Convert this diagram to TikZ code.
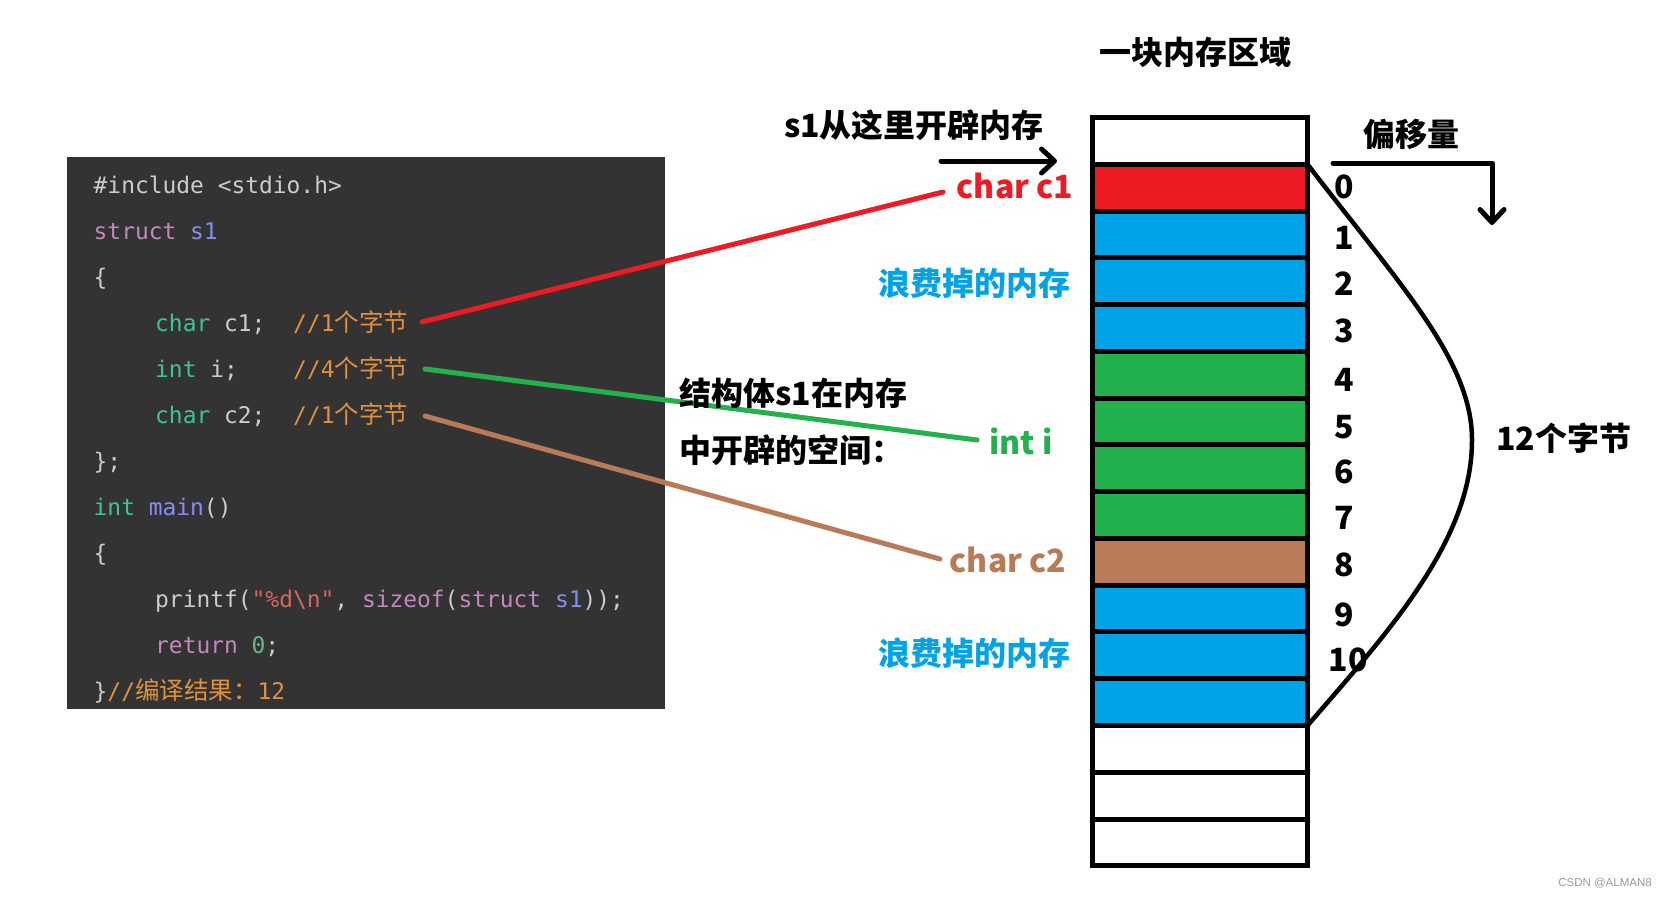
\documentclass[tikz,border=0pt]{standalone}
\usepackage{fontspec}
\setmainfont{Liberation Sans}
\newfontfamily\cjk{Noto Sans CJK SC}
\newfontfamily\codefont{DejaVu Sans Mono}
\newfontfamily\wmfont{Liberation Sans}
\usetikzlibrary{arrows.meta}
\definecolor{codebg}{HTML}{333333}
\definecolor{cgray}{HTML}{CCCCCC}
\definecolor{cgreen}{HTML}{3EC48E}
\definecolor{cpink}{HTML}{C586C0}
\definecolor{cblue}{HTML}{8A8AF5}
\definecolor{corange}{HTML}{E0913E}
\definecolor{cstr}{HTML}{D7665F}
\definecolor{czero}{HTML}{6DB58A}
\definecolor{memred}{HTML}{ED1C24}
\definecolor{memblue}{HTML}{00A2E8}
\definecolor{memgreen}{HTML}{22B14C}
\definecolor{membrown}{HTML}{B97A57}
\definecolor{wmgray}{HTML}{999999}
\newcommand{\ccjk}[1]{{\cjk\fontsize{24.5}{26}\selectfont #1}}
\begin{document}
\begin{tikzpicture}[x=1pt,y=-1pt,
  code/.style={anchor=base west, inner sep=0pt, text=cgray, font=\codefont\fontsize{22.9}{26}\selectfont},
  cmt/.style={anchor=base west, inner sep=0pt, text=corange, font=\codefont\fontsize{22.9}{26}\selectfont},
  lbl/.style={inner sep=0pt, font=\cjk\bfseries\fontsize{32}{38}\selectfont},
  cell/.style={draw=black, line width=5pt, minimum width=215pt, minimum height=46.77pt, inner sep=0pt, outer sep=0pt},
  conn/.style={line width=5pt, line cap=round},
  blackarrow/.style={line width=5pt, line cap=round, line join=round, -{Straight Barb[length=13pt,width=24pt,round]}},
]
\useasboundingbox (0,0) rectangle (1662,898);
\fill[white] (0,0) rectangle (1662,898);

% code box
\node[fill=codebg, minimum width=598pt, minimum height=552pt, anchor=north west, inner sep=0pt, outer sep=0pt] (codebox) at (67,157) {};
\node[code] (l1) at (93.5,193.5) {\#include <stdio.h>};
\node[code] (l2) at (93.5,239.5) {\textcolor{cpink}{struct} \textcolor{cblue}{s1}};
\node[code] (l3) at (93.5,285.5) {\{};
\node[code] (l4) at (155,331.5) {\textcolor{cgreen}{char} c1;};
\node[cmt] (m4) at (293,331.5) {//1\ccjk{个字节}};
\node[code] (l5) at (155,377.5) {\textcolor{cgreen}{int} i;};
\node[cmt] (m5) at (293,377.5) {//4\ccjk{个字节}};
\node[code] (l6) at (155,423.5) {\textcolor{cgreen}{char} c2;};
\node[cmt] (m6) at (293,423.5) {//1\ccjk{个字节}};
\node[code] (l7) at (93.5,469.5) {\};};
\node[code] (l8) at (93.5,515.5) {\textcolor{cgreen}{int} \textcolor{cblue}{main}()};
\node[code] (l9) at (93.5,561.5) {\{};
\node[code] (l10) at (155,607.5) {printf(\textcolor{cstr}{"\%d\textbackslash n"}, \textcolor{cpink}{sizeof}(\textcolor{cpink}{struct} \textcolor{cblue}{s1}));};
\node[code] (l11) at (155,653.5) {\textcolor{cpink}{return} \textcolor{czero}{0};};
\node[code] (l12) at (93.5,699.5) {\}\textcolor{corange}{//\ccjk{编译结果：}12}};

% memory block
\foreach \c [count=\i from 0] in {white,memred,memblue,memblue,memblue,memgreen,memgreen,memgreen,memgreen,membrown,memblue,memblue,memblue,white,white,white}{
  \node[cell, fill=\c] (row\i) at (1200,{117.5+(\i+0.5)*46.77}) {};
}

% connectors
\coordinate (ra) at (422,322); \coordinate (rb) at (943,192);
\coordinate (ga) at (425,369); \coordinate (gb) at (977,440);
\coordinate (ba) at (425,416); \coordinate (bb) at (940,559);
\draw[conn, memred] (ra) -- (rb);
\draw[conn, memgreen] (ga) -- (gb);
\draw[conn, membrown] (ba) -- (bb);

% labels
\node[lbl] (t1) at (1195.5,52) {一块内存区域};
\node[lbl] (t2) at (914,125) {s1从这里开辟内存};
\node[lbl] (t3) at (1411,134) {偏移量};
\node[lbl, text=memred] (t4) at (1015,185.5) {char c1};
\node[lbl, text=memblue] (t5) at (974.5,283) {浪费掉的内存};
\node[lbl, anchor=west] (t6) at (679,393) {结构体s1在内存};
\node[lbl, anchor=west] (t7) at (679,450.5) {中开辟的空间：};
\node[lbl, text=memgreen] (t8) at (1021,441) {int i};
\node[lbl, text=membrown] (t9) at (1008,560) {char c2};
\node[lbl, text=memblue] (t10) at (974.5,653) {浪费掉的内存};
\node[lbl] (t11) at (1563.5,438) {12个字节};

% offsets
\foreach \d/\yy in {0/186.5,1/237.5,2/284,3/331,4/379.5,5/427,6/471.7,7/518,8/565,9/615}{
  \node[lbl] (d\d) at (1344,\yy) {\d};
}
\node[lbl] (d10) at (1348,660) {10};

% brace curve
\draw[line width=4.5pt] (row1.north east) .. controls (1400,285) and (1472,360) .. (1472,440) .. controls (1472,540) and (1390,630) .. (row12.south east);

% arrows
\coordinate (sa) at (941,161); \coordinate (sb) at (1057,161);
\draw[blackarrow] (sa) -- (sb);
\coordinate (oa) at (1333,163); \coordinate (ob) at (1492,163); \coordinate (oc) at (1492,225);
\draw[blackarrow] (oa) -- (ob) -- (oc);

% watermark
\node[inner sep=0pt, text=wmgray, font=\wmfont\fontsize{11.5}{13}\selectfont] (wm) at (1605,883) {CSDN @ALMAN8};
\end{tikzpicture}
\end{document}
